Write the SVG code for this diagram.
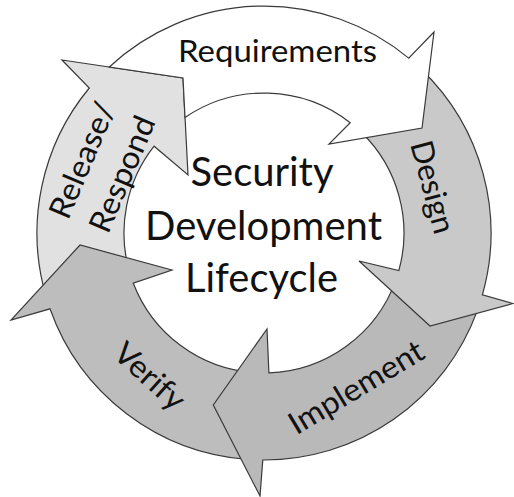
<svg xmlns="http://www.w3.org/2000/svg" width="514" height="497" viewBox="0 0 514 497">
<style>
.seg{stroke:#3a3a3a;stroke-width:1.2;stroke-linejoin:miter}
.lbl{font-family:Lato,"Open Sans","Liberation Sans",sans-serif;font-size:31px;fill:#111;text-anchor:middle}
.ctr{font-family:Lato,"Open Sans","Liberation Sans",sans-serif;font-size:41px;fill:#111;text-anchor:middle}
</style>
<rect width="514" height="497" fill="#ffffff"/>
<g id="connectors"></g>
<g id="release">
<path class="seg" fill="#e1e1e1" d="M 45.8,295.6 A 227 227 0 0 1 89.3,88 L 62,60 L 183,78 L 188,175 L 154.1,146.2 A 140 140 0 0 0 129.4,271.6 Z"/>
<text class="lbl" transform="translate(82,160) rotate(-67)" y="11" textLength="123" lengthAdjust="spacingAndGlyphs">Release/</text>
<text class="lbl" transform="translate(122,174) rotate(-67)" y="11" textLength="123" lengthAdjust="spacingAndGlyphs">Respond</text>
</g>
<g id="verify">
<path class="seg" fill="#bdbdbd" d="M 248.2,459.5 A 227 227 0 0 1 50,308.8 L 11,320 L 80,245 L 172,270 L 133.3,283.2 A 140 140 0 0 0 254.2,372.7 Z"/>
<text class="lbl" transform="translate(150,376) rotate(42)" y="11" textLength="84" lengthAdjust="spacingAndGlyphs">Verify</text>
</g>
<g id="implement">
<path class="seg" fill="#b9b9b9" d="M 477.3,310.6 A 227 227 0 0 1 262.8,460 L 260,496 L 213.3,405 L 267,329 L 268.9,372.9 A 140 140 0 0 0 395.6,280.9 Z"/>
<text class="lbl" transform="translate(356,387) rotate(-31)" y="11" textLength="152" lengthAdjust="spacingAndGlyphs">Implement</text>
</g>
<g id="design">
<path class="seg" fill="#c9c9c9" d="M 421.7,69.7 A 227 227 0 0 1 482.4,294.8 L 513,303.5 L 430,326 L 359,261 L 398.8,270.6 A 140 140 0 0 0 361.3,132.3 Z"/>
<text class="lbl" transform="translate(433,187) rotate(75)" y="11" textLength="95" lengthAdjust="spacingAndGlyphs">Design</text>
</g>
<g id="requirements">
<path class="seg" fill="#ffffff" d="M 109.3,67 A 227 227 0 0 1 408.7,58.1 L 434,32 L 422,128 L 329,144 L 350.2,122.7 A 140 140 0 0 0 185,117.5 L 183,78 Z"/>
<text class="lbl" x="277.5" y="62" textLength="199" lengthAdjust="spacingAndGlyphs">Requirements</text>
</g>
<g id="title">
<text class="ctr" x="262" y="186" textLength="143" lengthAdjust="spacingAndGlyphs">Security</text>
<text class="ctr" x="263.5" y="240" textLength="237" lengthAdjust="spacingAndGlyphs">Development</text>
<text class="ctr" x="261.5" y="292" textLength="153" lengthAdjust="spacingAndGlyphs">Lifecycle</text>
</g>
</svg>
